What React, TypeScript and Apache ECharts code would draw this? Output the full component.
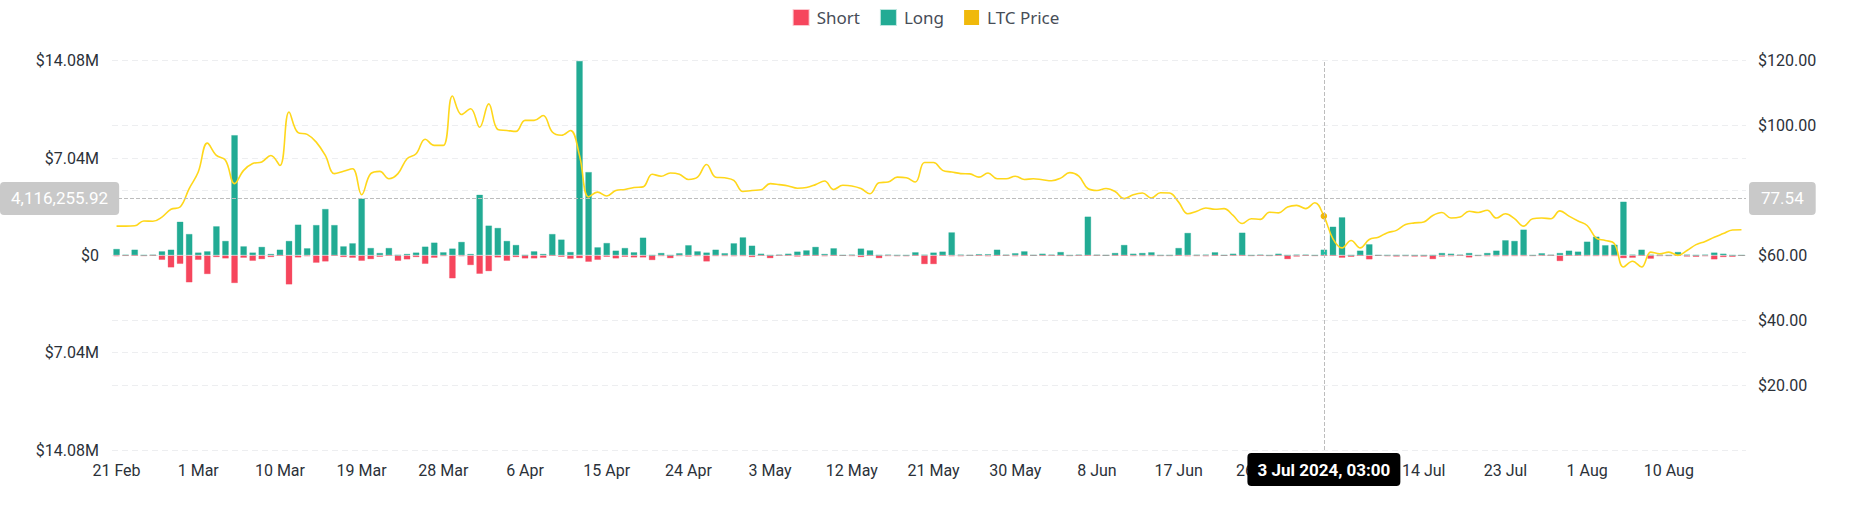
import React, { useEffect, useRef } from "react";
import * as echarts from "echarts";

// ---- data (values in millions USD for liquidations, USD for price) ----
const START_YEAR = 2024;
const START_MONTH = 1; // 0-based: February
const START_DAY = 21;

const LONG_M = [
  0.48, 0.05, 0.43, 0.02, 0.05, 0.31, 0.43, 2.45, 1.56, 0.22,
  0.31, 2.12, 1.06, 8.71, 0.67, 0.22, 0.63, 0.12, 0.43, 1.06,
  2.24, 0.53, 2.21, 3.37, 2.21, 0.67, 0.89, 4.12, 0.55, 0.19,
  0.55, 0.03, 0.12, 0.22, 0.65, 0.94, 0.24, 0.51, 0.99, 0.12,
  4.40, 2.17, 2.00, 1.06, 0.77, 0.02, 0.31, 0.12, 1.56, 1.16,
  0.26, 14.08, 6.04, 0.60, 0.91, 0.36, 0.55, 0.24, 1.30, 0.01,
  0.19, 0.01, 0.17, 0.75, 0.31, 0.22, 0.43, 0.17, 0.89, 1.32,
  0.72, 0.14, 0.01, 0.07, 0.14, 0.29, 0.38, 0.63, 0.12, 0.53,
  0.02, 0.07, 0.51, 0.38, 0.02, 0.07, 0.02, 0.01, 0.24, 0.05,
  0.22, 0.29, 1.68, 0.07, 0.02, 0.10, 0.10, 0.43, 0.05, 0.17,
  0.31, 0.02, 0.14, 0.07, 0.26, 0.01, 0.07, 2.82, 0.05, 0.01,
  0.19, 0.77, 0.14, 0.19, 0.24, 0.02, 0.02, 0.55, 1.64, 0.05,
  0.07, 0.24, 0.02, 0.14, 1.66, 0.01, 0.07, 0.01, 0.14, 0.01,
  0.07, 0.07, 0.01, 0.43, 2.09, 2.77, 0.01, 0.36, 0.82, 0.02,
  0.02, 0.02, 0.02, 0.01, 0.01, 0.01, 0.19, 0.14, 0.07, 0.19,
  0.01, 0.19, 0.36, 1.11, 1.06, 1.88, 0.01, 0.17, 0.05, 0.19,
  0.36, 0.29, 1.01, 1.37, 0.75, 0.79, 3.90, 0.07, 0.43, 0.05,
  0.07, 0.02, 0.26, 0.07, 0.02, 0.07, 0.22, 0.14, 0.01, 0.01,
];

const SHORT_M = [
  0.07, 0.03, 0.01, 0.05, 0.01, 0.34, 0.89, 0.63, 1.97, 0.34,
  1.37, 0.14, 0.24, 2.02, 0.19, 0.41, 0.29, 0.14, 0.02, 2.12,
  0.17, 0.07, 0.55, 0.46, 0.02, 0.14, 0.19, 0.41, 0.29, 0.12,
  0.02, 0.41, 0.31, 0.14, 0.63, 0.19, 0.05, 1.68, 0.07, 0.72,
  1.35, 1.16, 0.17, 0.41, 0.14, 0.24, 0.24, 0.19, 0.02, 0.12,
  0.26, 0.22, 0.48, 0.34, 0.12, 0.24, 0.12, 0.17, 0.17, 0.36,
  0.05, 0.22, 0.05, 0.10, 0.05, 0.46, 0.05, 0.05, 0.07, 0.05,
  0.14, 0.02, 0.22, 0.02, 0.01, 0.10, 0.02, 0.02, 0.07, 0.02,
  0.02, 0.05, 0.14, 0.02, 0.22, 0.05, 0.07, 0.07, 0.02, 0.65,
  0.65, 0.02, 0.07, 0.07, 0.01, 0.02, 0.07, 0.02, 0.01, 0.07,
  0.01, 0.01, 0.02, 0.02, 0.01, 0.05, 0.02, 0.02, 0.01, 0.01,
  0.01, 0.02, 0.05, 0.05, 0.05, 0.05, 0.05, 0.02, 0.07, 0.05,
  0.07, 0.02, 0.02, 0.01, 0.02, 0.05, 0.02, 0.05, 0.02, 0.29,
  0.10, 0.02, 0.05, 0.02, 0.02, 0.19, 0.12, 0.02, 0.31, 0.02,
  0.07, 0.10, 0.07, 0.10, 0.10, 0.29, 0.10, 0.07, 0.02, 0.17,
  0.05, 0.07, 0.07, 0.05, 0.05, 0.05, 0.05, 0.01, 0.01, 0.43,
  0.02, 0.01, 0.05, 0.05, 0.05, 0.05, 0.22, 0.19, 0.02, 0.26,
  0.05, 0.05, 0.02, 0.10, 0.12, 0.07, 0.31, 0.14, 0.12, 0.02,
];

const PRICE = [
  69.0, 69.0, 69.1, 70.6, 70.5, 71.8, 74.2, 74.9, 80.6, 85.7,
  94.6, 90.8, 89.3, 82.1, 86.2, 88.3, 88.8, 90.8, 87.7, 104.2,
  97.8, 97.3, 94.9, 90.8, 85.2, 85.9, 86.7, 78.7, 85.2, 85.9,
  83.6, 85.2, 89.8, 91.3, 95.8, 93.9, 93.9, 109.1, 103.4, 105.2,
  99.5, 106.7, 98.8, 98.5, 98.2, 101.6, 101.6, 103.1, 98.0, 97.0,
  98.5, 90.8, 78.0, 79.5, 78.3, 80.0, 80.3, 80.9, 81.1, 85.0,
  84.4, 85.4, 85.0, 83.4, 84.1, 88.0, 84.1, 83.9, 83.1, 79.7,
  80.0, 80.2, 82.1, 81.8, 81.4, 80.7, 80.9, 81.8, 82.9, 80.3,
  81.6, 81.4, 80.6, 79.0, 82.4, 82.6, 84.1, 83.9, 82.6, 88.6,
  88.6, 86.2, 85.7, 85.2, 85.1, 84.1, 85.4, 83.6, 83.6, 84.4,
  83.4, 83.6, 83.3, 83.0, 83.8, 85.5, 84.4, 80.6, 80.0, 80.6,
  79.7, 77.5, 78.7, 79.2, 77.7, 79.3, 79.2, 76.4, 72.8, 73.6,
  74.6, 74.2, 74.4, 72.3, 69.8, 71.3, 71.1, 73.3, 73.1, 74.9,
  75.4, 74.4, 76.2, 72.1, 65.1, 62.3, 64.6, 62.3, 64.9, 65.6,
  67.0, 67.7, 69.5, 70.0, 70.3, 72.3, 73.2, 71.5, 71.8, 73.6,
  73.2, 73.9, 71.5, 72.8, 71.3, 69.0, 71.3, 71.5, 71.3, 73.7,
  72.1, 70.6, 69.2, 65.3, 64.6, 63.6, 56.4, 58.2, 56.4, 61.0,
  60.5, 61.0, 60.0, 61.5, 63.3, 64.3, 65.6, 66.7, 67.8, 67.9,
];

const MONTHS = ["Jan", "Feb", "Mar", "Apr", "May", "Jun", "Jul", "Aug", "Sep", "Oct", "Nov", "Dec"];
const LEGEND_NAMES = ["Short", "Long", "LTC Price"];
const COLORS = { short: "#F6465D", long: "#22AB94", price: "#F0B90B" };

const LEFT_MAX = 14.08e6;
const LEFT_INTERVAL = 7.04e6;
const RIGHT_MAX = 120;
const RIGHT_INTERVAL = 20;
const LABEL_EVERY = 9;

// crosshair position shown in the picture
const HOVER_INDEX = 133;
const HOVER_LEFT_VALUE = 4116255.92;
const HOVER_TIME = "03:00";

const pad = (n: number) => (n < 10 ? "0" + n : "" + n);
const CATEGORIES: string[] = LONG_M.map((_, i) => {
  const d = new Date(Date.UTC(START_YEAR, START_MONTH, START_DAY + i));
  return `${d.getUTCFullYear()}-${pad(d.getUTCMonth() + 1)}-${pad(d.getUTCDate())}`;
});

const parts = (s: string) => {
  const [y, m, d] = s.split("-").map(Number);
  return { y, m, d };
};

export default function App() {
  const ref = useRef<HTMLDivElement>(null);

  useEffect(() => {
    document.body.style.margin = "0";
    if (!ref.current) return;
    const chart = echarts.init(ref.current, undefined, { renderer: "svg" });
    const axisFont = "Roboto";
    const axisColor = "#2B3139";

    chart.setOption({
      animation: false,
      backgroundColor: "#ffffff",
      legend: {
        top: 4,
        left: "center",
        icon: "rect",
        itemWidth: 15,
        itemHeight: 15,
        itemGap: 20,
        data: LEGEND_NAMES,
        textStyle: { color: "#474D57", fontSize: 17, fontFamily: "Noto Sans", padding: [0, 0, 0, 3] },
      },
      grid: { left: 112, right: 106, top: 60.7, bottom: 75 },
      tooltip: {
        trigger: "axis",
        showContent: false,
        axisPointer: {
          type: "cross",
          lineStyle: { color: "#BDBDBD", type: "dashed", width: 1 },
          crossStyle: { color: "#BDBDBD", type: "dashed", width: 1 },
        },
      },
      xAxis: {
        type: "category",
        data: CATEGORIES,
        boundaryGap: true,
        axisLine: { show: false },
        axisTick: { show: false },
        splitLine: { show: false },
        axisLabel: {
          interval: LABEL_EVERY - 1,
          margin: 12,
          color: axisColor,
          fontSize: 16,
          fontFamily: axisFont,
          formatter: (v: string) => {
            const { m, d } = parts(v);
            return `${d} ${MONTHS[m - 1]}`;
          },
        },
        axisPointer: {
          label: {
            backgroundColor: "#000000",
            color: "#ffffff",
            fontSize: 17,
            fontFamily: axisFont,
            fontWeight: "bold",
            padding: [8, 10, 8, 10],
            borderRadius: 4,
            formatter: (p: any) => {
              const { y, m, d } = parts(String(p.value));
              return `${d} ${MONTHS[m - 1]} ${y}, ${HOVER_TIME}`;
            },
          },
        },
      },
      yAxis: [
        {
          type: "value",
          min: -LEFT_MAX,
          max: LEFT_MAX,
          interval: LEFT_INTERVAL,
          position: "left",
          axisLine: { show: false },
          axisTick: { show: false },
          splitLine: { show: true, lineStyle: { color: "#EDEEF0", type: [6, 4], width: 1.2 } },
          axisLabel: {
            margin: 13,
            color: axisColor,
            fontSize: 16,
            fontFamily: axisFont,
            formatter: (v: number) => (v === 0 ? "$0" : "$" + (Math.abs(v) / 1e6).toFixed(2) + "M"),
          },
          axisPointer: {
            label: {
              backgroundColor: "#C9C9C9",
              color: "#ffffff",
              fontSize: 17,
              fontFamily: axisFont,
              padding: [8, 11, 8, 11],
              borderRadius: 4,
              formatter: (p: any) =>
                Number(p.value).toLocaleString("en-US", { minimumFractionDigits: 2, maximumFractionDigits: 2 }),
            },
          },
        },
        {
          type: "value",
          min: 0,
          max: RIGHT_MAX,
          interval: RIGHT_INTERVAL,
          position: "right",
          axisLine: { show: false },
          axisTick: { show: false },
          splitLine: { show: true, lineStyle: { color: "#EDEEF0", type: [6, 4], width: 1.2 } },
          axisLabel: {
            margin: 12,
            color: axisColor,
            fontSize: 16,
            fontFamily: axisFont,
            formatter: (v: number) => (v === 0 ? "" : "$" + v.toFixed(2)),
          },
          axisPointer: {
            label: {
              backgroundColor: "#C9C9C9",
              color: "#ffffff",
              fontSize: 17,
              fontFamily: axisFont,
              padding: [8, 12, 8, 12],
              borderRadius: 4,
              formatter: (p: any) => Number(p.value).toFixed(2),
            },
          },
        },
      ],
      series: [
        {
          name: "Short",
          type: "bar",
          yAxisIndex: 0,
          data: SHORT_M.map((v) => -v * 1e6),
          barWidth: "76%",
          barGap: "-100%",
          itemStyle: { color: COLORS.short, borderColor: "rgba(246,70,93,0.3)", borderWidth: 1 },
        },
        {
          name: "Long",
          type: "bar",
          yAxisIndex: 0,
          data: LONG_M.map((v) => v * 1e6),
          barWidth: "76%",
          barGap: "-100%",
          itemStyle: { color: COLORS.long, borderColor: "rgba(34,171,148,0.3)", borderWidth: 1 },
        },
        {
          name: "LTC Price",
          type: "line",
          yAxisIndex: 1,
          data: PRICE,
          smooth: 0.4,
          showSymbol: false,
          symbol: "circle",
          symbolSize: 6,
          color: COLORS.price,
          lineStyle: { color: "#FCC419", width: 1.6 },
          z: 5,
        },
      ],
    });

    const showPointer = () => {
      const x = chart.convertToPixel({ xAxisIndex: 0 }, CATEGORIES[HOVER_INDEX]) as number;
      const y = chart.convertToPixel({ yAxisIndex: 0 }, HOVER_LEFT_VALUE) as number;
      chart.dispatchAction({ type: "showTip", x, y });
    };
    showPointer();
    const t = setTimeout(showPointer, 50);

    return () => {
      clearTimeout(t);
      chart.dispose();
    };
  }, []);

  return <div ref={ref} style={{ position: "fixed", left: 0, top: 0, width: "100%", height: "100%" }} />;
}
